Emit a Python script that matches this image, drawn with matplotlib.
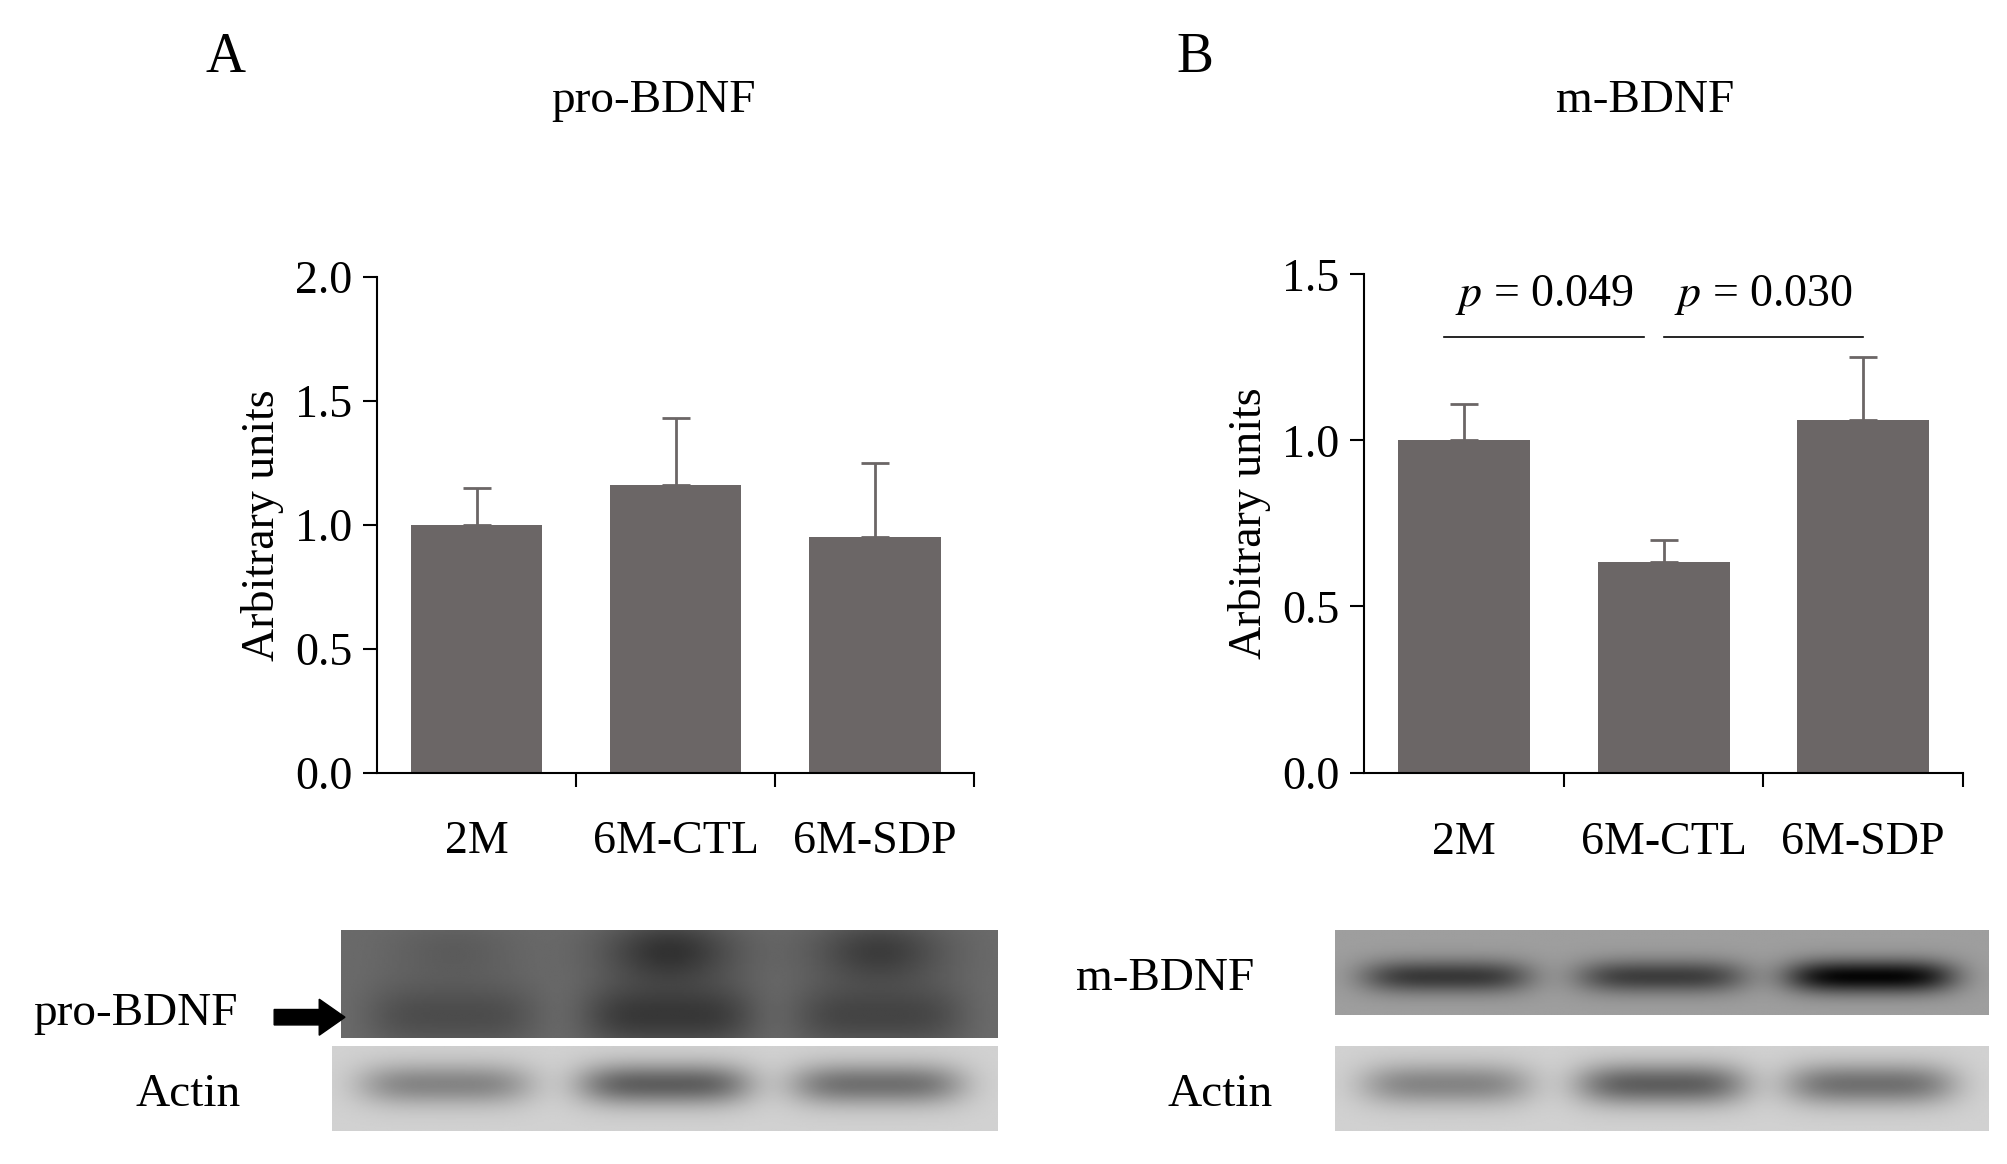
import numpy as np
import matplotlib.pyplot as plt

plt.rcParams['font.family'] = ['Liberation Serif', 'DejaVu Serif']
plt.rcParams['mathtext.fontset'] = 'stix'

groups = ['2M', '6M-CTL', '6M-SDP']
pro_vals = [1.0, 1.16, 0.95]
pro_err = [0.15, 0.27, 0.30]
m_vals = [1.0, 0.635, 1.06]
m_err = [0.11, 0.065, 0.19]
p_labels = ['0.049', '0.030']

# band strength per lane for the blot pictures (0..1)
pro_bands = [0.12, 0.2, 0.15]
pro_top = [0.06, 0.22, 0.18]
m_bands = [0.4, 0.38, 0.6]
actin_bands = [0.3, 0.45, 0.38]

BAR = '#6b6666'
W, H = 1560, 904


def box(x0, y0, x1, y1):
    return [x0 / W, 1 - y1 / H, (x1 - x0) / W, (y1 - y0) / H]


fig = plt.figure(figsize=(20.08, 11.64), dpi=100)


def bar_panel(rect, vals, errs, ymax, ticks):
    ax = fig.add_axes(rect)
    x = np.arange(len(vals))
    ax.bar(x, vals, width=0.66, color=BAR, zorder=2)
    ax.errorbar(x, vals, yerr=[np.zeros(len(errs)), errs], fmt='none',
                ecolor=BAR, elinewidth=2, capsize=10, capthick=2, zorder=1)
    ax.set_xlim(-0.5, len(vals) - 0.5)
    ax.set_ylim(0, ymax)
    ax.set_yticks(ticks)
    ax.set_yticklabels([f'{t:.1f}' for t in ticks])
    ax.set_xticks([0.5, 1.5, 2.5])
    ax.set_xticklabels([])
    for i, g in enumerate(groups):
        ax.text(i, -0.14 * ymax, g, ha='center', va='center', fontsize=33)
    ax.tick_params(axis='y', direction='out', length=10, width=1.5, labelsize=33, pad=8)
    ax.tick_params(axis='x', direction='out', length=10, width=1.5)
    for s in ['top', 'right']:
        ax.spines[s].set_visible(False)
    for s in ['left', 'bottom']:
        ax.spines[s].set_linewidth(1.5)
    ax.set_ylabel('Arbitrary units', fontsize=33, labelpad=8)
    return ax


axA = bar_panel(box(293, 215, 757, 600), pro_vals, pro_err, 2.0, [0.0, 0.5, 1.0, 1.5, 2.0])
axB = bar_panel(box(1060, 213, 1525, 600), m_vals, m_err, 1.5, [0.0, 0.5, 1.0, 1.5])

# significance lines
for (a, b), lab, xs in zip([(0, 1), (1, 2)], p_labels, [(-0.1, 0.9), (1.0, 2.0)]):
    y = 1.31
    axB.plot(list(xs), [y, y], color='black', lw=1.2, clip_on=False)
    axB.text(sum(xs) / 2, y + 0.06, r'$\mathit{p}$ = ' + lab, ha='center', va='bottom', fontsize=33)

fig.text(175 / W, 1 - 45 / H, 'A', fontsize=40, ha='center', va='center')
fig.text(508 / W, 1 - 78 / H, 'pro-BDNF', fontsize=34, ha='center', va='center')
fig.text(928 / W, 1 - 45 / H, 'B', fontsize=40, ha='center', va='center')
fig.text(1278 / W, 1 - 78 / H, 'm-BDNF', fontsize=34, ha='center', va='center')


def blot(rect, bands, base, band_y, band_h, extra=None):
    ax = fig.add_axes(rect)
    nx, ny = 300, 60
    xs = np.linspace(0, 1, nx)
    ys = np.linspace(0, 1, ny)
    X, Y = np.meshgrid(xs, ys)
    img = np.full((ny, nx), base)
    centers = [0.17, 0.5, 0.82]
    for c, s in zip(centers, bands):
        img -= s * np.exp(-((X - c) / 0.13) ** 4) * np.exp(-((Y - band_y) / band_h) ** 2)
    if extra is not None:
        for c, s in zip(centers, extra):
            img -= s * np.exp(-((X - c) / 0.1) ** 2) * np.exp(-((Y - 0.2) / 0.3) ** 2)
    ax.imshow(img, cmap='gray', vmin=0, vmax=1, aspect='auto', interpolation='bilinear')
    ax.set_axis_off()
    return ax


blot(box(265, 722, 775, 806), pro_bands, 0.42, 0.8, 0.3, extra=pro_top)
blot(box(258, 812, 775, 878), actin_bands, 0.82, 0.45, 0.25)
blot(box(1037, 722, 1545, 788), m_bands, 0.62, 0.55, 0.2)
blot(box(1037, 812, 1545, 878), actin_bands, 0.82, 0.45, 0.25)

fig.text(105 / W, 1 - 787 / H, 'pro-BDNF', fontsize=34, ha='center', va='center')
fig.text(146 / W, 1 - 850 / H, 'Actin', fontsize=34, ha='center', va='center')
fig.text(905 / W, 1 - 760 / H, 'm-BDNF', fontsize=34, ha='center', va='center')
fig.text(948 / W, 1 - 850 / H, 'Actin', fontsize=34, ha='center', va='center')
fig.patches.append(plt.matplotlib.patches.FancyArrow(
    213 / W, 1 - 790 / H, 55 / W, 0, width=12 / H, head_width=28 / H,
    head_length=20 / W, length_includes_head=True, color='black',
    transform=fig.transFigure))

fig.savefig('out.png', dpi=100)
